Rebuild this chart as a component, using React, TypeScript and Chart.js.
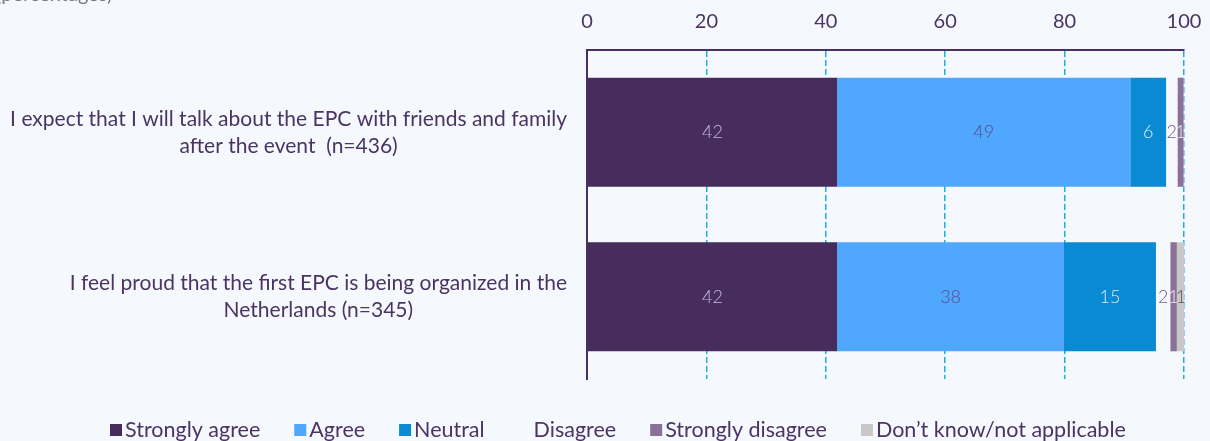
import React, { useEffect, useRef } from "react";
import { Chart, registerables } from "chart.js";

Chart.register(...registerables);

// ---- data ----
const categories: string[][] = [
  ["I expect that I will talk about the EPC with friends and family", "after the event  (n=436)"],
  ["I feel proud that the first EPC is being organized in the", "Netherlands (n=345)"],
];
const seriesNames = [
  "Strongly agree",
  "Agree",
  "Neutral",
  "Disagree",
  "Strongly disagree",
  "Don\u2019t know/not applicable",
];
const stronglyAgree = [41.9, 41.9];
const agree = [49.1, 38.0];
const neutral = [6.0, 15.4];
const disagree = [1.9, 2.4];
const stronglyDisagree = [1.0, 1.1];
const dontKnow = [0.3, 1.4];
const xTicks = [0, 20, 40, 60, 80, 100];
const subtitle = "(percentages)";

// ---- styles ----
const BG = "#F5F8FD";
const TEXT = "#4A3463";
const AXIS = "#4A2F62";
const seriesColors = ["#472C5E", "#4FA8FE", "#0A8AD2", BG, "#8A7197", "#C8C8C8"];
const labelColors = ["#C8B6DA", "#5B4A8C", "#DCEEFF", "#6E5A8A", "#EDE4F2", "#5A5A5A"];

const bgPlugin = {
  id: "bg",
  beforeDraw(chart: any) {
    const ctx = chart.ctx;
    ctx.save();
    ctx.fillStyle = BG;
    ctx.fillRect(0, 0, chart.width, chart.height);
    ctx.restore();
  },
};

const subtitlePlugin = {
  id: "subtitle",
  afterDraw(chart: any) {
    const ctx = chart.ctx;
    ctx.save();
    ctx.font = "20px Lato";
    ctx.fillStyle = "#7A7886";
    ctx.textAlign = "left";
    ctx.textBaseline = "alphabetic";
    ctx.fillText(subtitle, -4, 1);
    ctx.restore();
  },
};

const categoryLabelPlugin = {
  id: "catLabels",
  afterDraw(chart: any) {
    const ctx = chart.ctx;
    const yScale = chart.scales.y;
    const right = chart.chartArea.left - 20;
    ctx.save();
    ctx.font = "21px Lato";
    ctx.fillStyle = TEXT;
    ctx.textAlign = "center";
    ctx.textBaseline = "middle";
    categories.forEach((lines, i) => {
      const cy = yScale.getPixelForValue(i);
      const w = Math.max(...lines.map((l) => ctx.measureText(l).width));
      const cx = right - w / 2;
      const lh = 27;
      lines.forEach((l, j) => {
        ctx.fillText(l, cx, cy + (j - (lines.length - 1) / 2) * lh);
      });
    });
    ctx.restore();
  },
};

const valueLabelPlugin = {
  id: "valueLabels",
  afterDatasetsDraw(chart: any) {
    const ctx = chart.ctx;
    ctx.save();
    ctx.font = "300 18px Lato";
    ctx.textAlign = "center";
    ctx.textBaseline = "middle";
    chart.data.datasets.forEach((ds: any, di: number) => {
      const meta = chart.getDatasetMeta(di);
      meta.data.forEach((el: any, i: number) => {
        const v = ds.data[i] as number;
        if (v < 0.5) return;
        const p = el.getCenterPoint();
        ctx.fillStyle = labelColors[di];
        ctx.fillText(String(Math.round(v)), p.x, p.y);
      });
    });
    ctx.restore();
  },
};

const legendPlugin = {
  id: "customLegend",
  afterDraw(chart: any) {
    const ctx = chart.ctx;
    ctx.save();
    ctx.font = "21.5px Lato";
    ctx.textAlign = "left";
    ctx.textBaseline = "middle";
    let x = 110;
    const y = chart.height - 11;
    chart.data.datasets.forEach((ds: any) => {
      ctx.fillStyle = ds.backgroundColor;
      ctx.fillRect(x, y - 6, 12, 12);
      ctx.fillStyle = TEXT;
      ctx.fillText(ds.label, x + 15, y);
      x += 15 + ctx.measureText(ds.label).width + 34;
    });
    ctx.restore();
  },
};

export default function App() {
  const ref = useRef<HTMLCanvasElement>(null);
  useEffect(() => {
    const values = [stronglyAgree, agree, neutral, disagree, stronglyDisagree, dontKnow];
    const chart = new Chart(ref.current as HTMLCanvasElement, {
      type: "bar",
      data: {
        labels: categories.map((c) => c.join(" ")),
        datasets: seriesNames.map((name, i) => ({
          label: name,
          data: values[i],
          backgroundColor: seriesColors[i],
          borderWidth: 0,
          barPercentage: 0.663,
          categoryPercentage: 1,
        })),
      },
      options: {
        indexAxis: "y",
        animation: false,
        responsive: true,
        maintainAspectRatio: false,
        layout: { padding: { left: 587, right: 26, top: 10, bottom: 62 } },
        plugins: {
          legend: { display: false },
          tooltip: { enabled: false },
        },
        scales: {
          x: {
            type: "linear",
            position: "top",
            stacked: true,
            min: 0,
            max: 100,
            afterBuildTicks: (s: any) => {
              s.ticks = xTicks.map((v) => ({ value: v }));
            },
            afterFit: (s: any) => {
              s.height = 40;
              s.paddingLeft = 0;
              s.paddingRight = 0;
            },
            ticks: { padding: 16, color: TEXT, font: { family: "Lato", size: 20 } },
            grid: { color: "#1AAFEA", lineWidth: 1.5, drawTicks: false },
            border: { display: true, color: AXIS, width: 2, dash: [6, 3] },
          },
          y: {
            type: "category",
            stacked: true,
            grid: { display: false, drawTicks: false },
            ticks: { display: false },
            border: { display: true, color: AXIS, width: 2 },
          },
        },
      } as any,
      plugins: [bgPlugin, categoryLabelPlugin, valueLabelPlugin, legendPlugin, subtitlePlugin],
    });
    return () => chart.destroy();
  }, []);
  return (
    <div style={{ position: "absolute", left: 0, top: 0, width: 1210, height: 441, background: BG }}>
      <canvas ref={ref} />
    </div>
  );
}
